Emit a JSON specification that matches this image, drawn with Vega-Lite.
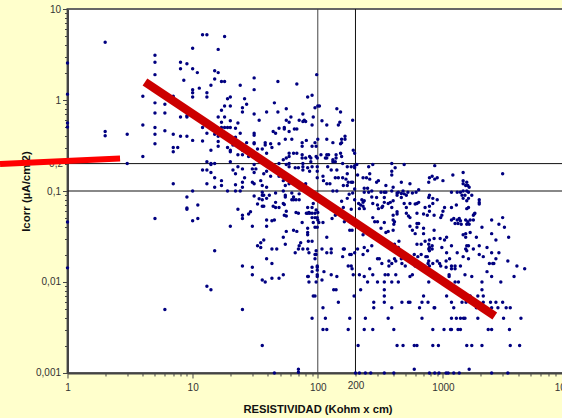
{"$schema":"https://vega.github.io/schema/vega-lite/v6.json","width":500.6,"height":364,"autosize":"none","padding":{"left":67.5,"top":9,"right":0,"bottom":45},"background":"#FFFFCC","view":{"fill":"white","stroke":"#666666","strokeWidth":2},
"config":{"font":"Liberation Sans"},
"layer":[
{"data":{"values":[{"r":100},{"r":200}]},"mark":{"type":"rule","strokeWidth":1},"encoding":{"color":{"condition":{"test":"datum.r==100","value":"#444444"},"value":"#111111"},"x":{"field":"r","type":"quantitative","scale":{"type":"log","domain":[1,10000],"nice":false},"axis":{"values":[1,2,3,4,5,6,7,8,9,10,20,30,40,50,60,70,80,90,100,200,300,400,500,600,700,800,900,1000,2000,3000,4000,5000,6000,7000,8000,9000,10000],"labelExpr":"indexof([1,10,100,200,1000,10000],datum.value)>=0?toString(datum.value):''","labelOverlap":false,"labelBound":false,"labelFlush":false,"grid":false,"domainColor":"#444444","domainWidth":2,"tickColor":"#444444","tickSize":{"condition":{"test":"abs(log(datum.value)/LN10-round(log(datum.value)/LN10))<0.001","value":5},"value":3},"labelColor":"#333333","labelFontSize":10,"labelPadding":5,"title":"RESISTIVIDAD (Kohm x cm)","titleFontSize":11.2,"titleFontWeight":"bold","titleColor":"#111111","titleX":250,"titleY":40,"titleBaseline":"alphabetic"}}}},
{"data":{"values":[{"v":0.1},{"v":0.2}]},"mark":{"type":"rule","color":"#111111","strokeWidth":1},"encoding":{"y":{"field":"v","type":"quantitative","scale":{"type":"log","domain":[0.001,10],"nice":false},"axis":{"values":[0.001,0.002,0.003,0.004,0.005,0.006,0.007,0.008,0.009,0.01,0.02,0.03,0.04,0.05,0.06,0.07,0.08,0.09,0.1,0.2,0.3,0.4,0.5,0.6,0.7,0.8,0.9,1,2,3,4,5,6,7,8,9,10],"labelExpr":"indexof([0.001,0.01,0.1,0.2,1,10],datum.value)>=0?replace(toString(datum.value),'.',','):''","labelOverlap":false,"labelBound":false,"grid":false,"domainColor":"#444444","domainWidth":2,"tickColor":"#444444","tickSize":{"condition":{"test":"abs(log(datum.value)/LN10-round(log(datum.value)/LN10))<0.001","value":5},"value":3},"labelColor":"#333333","labelFontSize":10,"labelPadding":2,"title":"Icorr (µA/cm 2)","titleFontSize":11.5,"titleFontWeight":"bold","titleColor":"#111111","titleX":-36,"titleY":182,"titleAngle":270}}}},
{"data":{"values":[
{"r":1,"i":2.55},{"r":1,"i":1.16},{"r":1,"i":0.56},{"r":1,"i":0.505},{"r":1,"i":0.0457},{"r":1,"i":0.0143},
{"r":2,"i":4.3},{"r":2,"i":0.45},{"r":2,"i":0.405},{"r":3,"i":0.42},{"r":3,"i":0.2},{"r":4,"i":1.1},{"r":4,"i":0.53},{"r":4,"i":0.24},
{"r":5,"i":3.1},{"r":5,"i":2.6},{"r":5,"i":1.9},{"r":5,"i":0.93},{"r":5,"i":0.72},{"r":5,"i":0.5},{"r":5,"i":0.42},{"r":5,"i":0.33},{"r":5,"i":0.05},
{"r":6,"i":0.9},{"r":6,"i":0.72},{"r":6,"i":0.46},{"r":6,"i":0.005},
{"r":8,"i":2.6},{"r":8,"i":2.2},{"r":7,"i":1.1},{"r":8,"i":0.65},{"r":7,"i":0.42},{"r":7,"i":0.3},{"r":7,"i":0.27},{"r":7.6,"i":0.3},{"r":8,"i":0.4},{"r":7,"i":0.12},
{"r":9,"i":2.5},{"r":8.5,"i":1.65},{"r":9,"i":0.67},{"r":9,"i":0.65},{"r":9,"i":0.4},{"r":9,"i":0.086},{"r":9,"i":0.065},
{"r":10,"i":3.7},{"r":10,"i":2.2},{"r":10,"i":1.3},{"r":10,"i":1.2},{"r":10,"i":1.08},{"r":10,"i":0.36},{"r":10,"i":0.1},
{"r":10.9,"i":2},{"r":11.3,"i":1.35},{"r":11,"i":0.07},{"r":12,"i":5.2},{"r":13,"i":5.2},{"r":13,"i":1.2},{"r":13,"i":1.08},{"r":12,"i":0.5},{"r":13,"i":0.43},{"r":12,"i":0.355},{"r":14,"i":0.28},{"r":13,"i":0.21},{"r":12,"i":0.17},{"r":13,"i":0.17},{"r":14,"i":0.2},{"r":15,"i":0.2},{"r":14,"i":0.16},{"r":15,"i":0.14},{"r":13,"i":0.12},{"r":15,"i":0.11},
{"r":16,"i":3.6},{"r":18,"i":5},{"r":15,"i":2.1},{"r":16,"i":2},{"r":15,"i":1.7},{"r":14,"i":1.45},{"r":17,"i":1.6},{"r":18,"i":1.6},
{"r":24,"i":1.45},{"r":31,"i":1.75},{"r":31,"i":1.3},{"r":48,"i":1.6},{"r":68,"i":1.5},{"r":98,"i":1.9},
{"r":20,"i":1.08},{"r":19,"i":1.03},{"r":20,"i":0.86},{"r":18,"i":0.86},{"r":26,"i":1.03},{"r":27,"i":0.9},{"r":25,"i":0.82},{"r":25,"i":0.74},{"r":17,"i":0.77},{"r":18,"i":0.65},{"r":16,"i":0.65},{"r":17,"i":0.57},{"r":20,"i":0.59},{"r":23,"i":0.56},{"r":31,"i":0.7},{"r":34,"i":0.6},{"r":39,"i":0.74},{"r":48,"i":0.74},{"r":45,"i":0.93},{"r":56,"i":0.8},{"r":61,"i":0.65},{"r":56,"i":0.6},{"r":59,"i":0.57},{"r":76,"i":0.7},{"r":71,"i":0.6},{"r":78,"i":0.6},{"r":80,"i":0.58},{"r":76,"i":0.58},{"r":92,"i":0.65},{"r":90,"i":0.53},{"r":83,"i":1.08},{"r":90,"i":1.13},{"r":95,"i":0.82},{"r":100,"i":0.86},{"r":103,"i":0.86},{"r":108,"i":0.59},{"r":118,"i":0.53},
{"r":18,"i":0.5},{"r":19,"i":0.5},{"r":20,"i":0.5},{"r":22,"i":0.49},{"r":17,"i":0.5},{"r":15,"i":0.42},{"r":24,"i":0.43},{"r":22,"i":0.39},{"r":16,"i":0.4},{"r":31,"i":0.43},{"r":31,"i":0.41},{"r":44,"i":0.45},{"r":46,"i":0.43},{"r":49,"i":0.49},{"r":54,"i":0.5},{"r":54,"i":0.48},{"r":59,"i":0.45},{"r":65,"i":0.48},{"r":68,"i":0.48},{"r":55,"i":0.37},{"r":62,"i":0.37},{"r":81,"i":0.36},{"r":75,"i":0.34},{"r":75,"i":0.31},{"r":95,"i":0.34},{"r":100,"i":0.37},{"r":118,"i":0.37},{"r":97,"i":0.31},{"r":90,"i":0.31},
{"r":16,"i":0.35},{"r":16,"i":0.31},{"r":19,"i":0.3},{"r":21,"i":0.32},{"r":20,"i":0.28},{"r":20,"i":0.27},{"r":27,"i":0.34},{"r":31,"i":0.34},{"r":31,"i":0.33},{"r":38,"i":0.34},{"r":38,"i":0.32},{"r":42,"i":0.33},{"r":43,"i":0.3},{"r":49,"i":0.33},{"r":33,"i":0.29},{"r":36,"i":0.29},{"r":25,"i":0.28},{"r":23,"i":0.25},{"r":25,"i":0.25},{"r":28,"i":0.24},{"r":39,"i":0.26},{"r":53,"i":0.22},{"r":59,"i":0.26},{"r":59,"i":0.24},{"r":64,"i":0.26},{"r":68,"i":0.26},{"r":75,"i":0.25},{"r":75,"i":0.23},{"r":80,"i":0.23},{"r":56,"i":0.23},{"r":86,"i":0.24},{"r":99,"i":0.23},{"r":106,"i":0.25},{"r":118,"i":0.25},{"r":115,"i":0.23},{"r":20,"i":0.21},
{"r":14,"i":0.195},{"r":23,"i":0.185},{"r":25,"i":0.175},{"r":30,"i":0.175},{"r":31,"i":0.195},{"r":32,"i":0.175},{"r":44,"i":0.18},{"r":49,"i":0.2},{"r":56,"i":0.195},{"r":59,"i":0.2},{"r":59,"i":0.185},{"r":66,"i":0.18},{"r":70,"i":0.18},{"r":76,"i":0.2},{"r":76,"i":0.185},{"r":83,"i":0.18},{"r":90,"i":0.185},{"r":99,"i":0.185},{"r":120,"i":0.185},
{"r":17,"i":0.13},{"r":17,"i":0.115},{"r":19,"i":0.1},{"r":22,"i":0.117},{"r":22,"i":0.1},{"r":21,"i":0.17},{"r":22,"i":0.155},{"r":24,"i":0.1},{"r":25,"i":0.125},{"r":25,"i":0.11},{"r":26,"i":0.14},{"r":30,"i":0.125},{"r":31,"i":0.12},{"r":35,"i":0.13},{"r":36,"i":0.115},{"r":31,"i":0.16},{"r":37,"i":0.155},{"r":39,"i":0.165},{"r":42,"i":0.145},{"r":47,"i":0.165},{"r":49,"i":0.145},{"r":53,"i":0.13},{"r":55,"i":0.115},{"r":39,"i":0.11},{"r":46,"i":0.095},{"r":53,"i":0.1},{"r":36,"i":0.097},{"r":59,"i":0.12},{"r":64,"i":0.13},{"r":80,"i":0.12},{"r":67,"i":0.117},{"r":76,"i":0.17},{"r":86,"i":0.165},{"r":99,"i":0.165},{"r":99,"i":0.14},{"r":111,"i":0.13},{"r":118,"i":0.12},{"r":110,"i":0.145},
{"r":10,"i":0.047},{"r":11,"i":0.05},{"r":9,"i":0.063},{"r":20,"i":0.041},{"r":23,"i":0.063},{"r":25,"i":0.054},{"r":25,"i":0.05},{"r":28,"i":0.056},{"r":29,"i":0.059},{"r":30,"i":0.041},{"r":39,"i":0.048},{"r":39,"i":0.041},{"r":43,"i":0.047},{"r":45,"i":0.048},{"r":15,"i":0.022},{"r":33,"i":0.025},{"r":35,"i":0.027},{"r":35,"i":0.024},{"r":37,"i":0.029},{"r":43,"i":0.023},{"r":47,"i":0.023},{"r":39,"i":0.018},{"r":43,"i":0.016},{"r":25,"i":0.015},{"r":30,"i":0.0145},{"r":30,"i":0.012},{"r":36,"i":0.0105},{"r":38,"i":0.01},{"r":43,"i":0.011},{"r":49,"i":0.011},{"r":13,"i":0.009},{"r":14,"i":0.0082},{"r":25,"i":0.005},{"r":36,"i":0.002},{"r":45,"i":0.001},
{"r":31,"i":0.088},{"r":33,"i":0.072},{"r":34,"i":0.082},{"r":36,"i":0.08},{"r":36,"i":0.068},{"r":37,"i":0.068},{"r":41,"i":0.09},{"r":37,"i":0.09},{"r":36,"i":0.09},{"r":39,"i":0.083},{"r":46,"i":0.075},{"r":44,"i":0.068},{"r":46,"i":0.066},{"r":49,"i":0.066},{"r":53,"i":0.073},{"r":54,"i":0.071},{"r":55,"i":0.09},{"r":55,"i":0.086},{"r":56,"i":0.06},{"r":54,"i":0.054},{"r":56,"i":0.053},
{"r":62,"i":0.095},{"r":64,"i":0.086},{"r":64,"i":0.08},{"r":67,"i":0.08},{"r":71,"i":0.093},{"r":62,"i":0.08},{"r":71,"i":0.08},{"r":67,"i":0.058},{"r":70,"i":0.057},{"r":75,"i":0.045},{"r":92,"i":0.073},{"r":90,"i":0.066},{"r":83,"i":0.066},{"r":85,"i":0.058},{"r":81,"i":0.057},{"r":83,"i":0.057},{"r":97,"i":0.062},{"r":100,"i":0.058},{"r":86,"i":0.057},{"r":90,"i":0.057},{"r":95,"i":0.057},{"r":99,"i":0.051},{"r":95,"i":0.051},{"r":90,"i":0.051},{"r":100,"i":0.048},{"r":110,"i":0.045},{"r":102,"i":0.045},{"r":92,"i":0.045},{"r":99,"i":0.04},{"r":95,"i":0.04},{"r":64,"i":0.037},{"r":68,"i":0.036},{"r":56,"i":0.036},{"r":83,"i":0.039},{"r":83,"i":0.035},{"r":83,"i":0.033},{"r":53,"i":0.031},{"r":118,"i":0.031},{"r":84,"i":0.028},{"r":90,"i":0.028},{"r":55,"i":0.026},{"r":73,"i":0.027},{"r":71,"i":0.025},{"r":70,"i":0.023},{"r":76,"i":0.023},{"r":83,"i":0.023},{"r":85,"i":0.021},{"r":66,"i":0.021},{"r":97,"i":0.022},{"r":95,"i":0.02},{"r":97,"i":0.02},{"r":95,"i":0.018},{"r":108,"i":0.023},{"r":118,"i":0.021},
{"r":53,"i":0.012},{"r":83,"i":0.0115},{"r":90,"i":0.013},{"r":99,"i":0.015},{"r":99,"i":0.0145},{"r":99,"i":0.0135},{"r":99,"i":0.012},{"r":99,"i":0.0115},{"r":112,"i":0.013},{"r":90,"i":0.0145},
{"r":84,"i":0.0115},{"r":85,"i":0.01},{"r":97,"i":0.01},{"r":108,"i":0.0105},{"r":128,"i":0.012},{"r":142,"i":0.0115},{"r":92,"i":0.007},{"r":95,"i":0.007},{"r":134,"i":0.0082},{"r":140,"i":0.0082},{"r":146,"i":0.006},{"r":110,"i":0.0052},{"r":90,"i":0.004},{"r":115,"i":0.004},{"r":110,"i":0.003},{"r":118,"i":0.003},{"r":180,"i":0.004},{"r":175,"i":0.003},{"r":240,"i":0.004},{"r":235,"i":0.003},{"r":275,"i":0.003},{"r":405,"i":0.003},{"r":365,"i":0.004},{"r":280,"i":0.0052},{"r":280,"i":0.006},{"r":390,"i":0.0052},{"r":340,"i":0.0082},{"r":340,"i":0.007},{"r":340,"i":0.006},{"r":220,"i":0.0082},{"r":195,"i":0.007},{"r":470,"i":0.006},{"r":530,"i":0.006},{"r":545,"i":0.006},{"r":700,"i":0.007},{"r":680,"i":0.006},{"r":760,"i":0.006},{"r":650,"i":0.0052},{"r":850,"i":0.0052},{"r":860,"i":0.0052},{"r":680,"i":0.004},{"r":830,"i":0.003},{"r":1020,"i":0.003},{"r":1150,"i":0.003},{"r":1170,"i":0.003},{"r":1320,"i":0.003},{"r":1380,"i":0.003},{"r":1170,"i":0.004},{"r":1280,"i":0.004},{"r":1380,"i":0.004},{"r":1460,"i":0.004},{"r":1500,"i":0.004},{"r":1900,"i":0.004},{"r":1070,"i":0.007},{"r":1170,"i":0.006},{"r":1220,"i":0.0052},{"r":1420,"i":0.006},{"r":1530,"i":0.006},{"r":1650,"i":0.007},{"r":1900,"i":0.007},{"r":2100,"i":0.007},{"r":2050,"i":0.0082},{"r":2100,"i":0.006},{"r":1850,"i":0.0052},{"r":2400,"i":0.006},{"r":2650,"i":0.006},{"r":3000,"i":0.006},{"r":2450,"i":0.0052},{"r":2750,"i":0.0052},{"r":3200,"i":0.0052},{"r":3450,"i":0.0052},{"r":3050,"i":0.004},{"r":4200,"i":0.004},{"r":2300,"i":0.003},{"r":2450,"i":0.003},{"r":3400,"i":0.003},{"r":4100,"i":0.002},{"r":3450,"i":0.002},{"r":2050,"i":0.002},{"r":1550,"i":0.002},{"r":1700,"i":0.002},{"r":830,"i":0.002},{"r":920,"i":0.002},{"r":590,"i":0.002},{"r":620,"i":0.002},{"r":430,"i":0.002},{"r":480,"i":0.002},{"r":210,"i":0.002},
{"r":70,"i":0.0011},{"r":70,"i":0.00102},{"r":200,"i":0.001},{"r":215,"i":0.001},{"r":240,"i":0.001},{"r":265,"i":0.001},{"r":340,"i":0.001},{"r":405,"i":0.001},{"r":590,"i":0.0011},{"r":780,"i":0.001},{"r":860,"i":0.001},{"r":930,"i":0.001},{"r":1060,"i":0.001},{"r":1100,"i":0.001},{"r":1220,"i":0.001},{"r":1350,"i":0.001},{"r":1620,"i":0.0011},{"r":2450,"i":0.001},{"r":3300,"i":0.001},
{"r":142,"i":0.8},{"r":152,"i":0.74},{"r":190,"i":0.6},{"r":150,"i":0.57},{"r":146,"i":0.53},{"r":155,"i":0.37},{"r":165,"i":0.4},{"r":165,"i":0.37},{"r":152,"i":0.33},{"r":155,"i":0.34},{"r":132,"i":0.34},{"r":192,"i":0.28},{"r":197,"i":0.26},{"r":152,"i":0.26},{"r":155,"i":0.24},{"r":140,"i":0.25},{"r":140,"i":0.23},{"r":132,"i":0.22},{"r":132,"i":0.21},{"r":138,"i":0.21},{"r":122,"i":0.25},{"r":118,"i":0.23},{"r":97,"i":0.24},{"r":88,"i":0.23},{"r":88,"i":0.21},
{"r":390,"i":0.2},{"r":490,"i":0.195},{"r":860,"i":0.19},{"r":158,"i":0.2},{"r":172,"i":0.185},{"r":185,"i":0.185},{"r":197,"i":0.19},{"r":205,"i":0.195},{"r":255,"i":0.185},{"r":275,"i":0.195},{"r":415,"i":0.18},{"r":390,"i":0.165},{"r":390,"i":0.15},{"r":260,"i":0.155},{"r":260,"i":0.135},{"r":208,"i":0.15},{"r":230,"i":0.14},{"r":245,"i":0.14},{"r":172,"i":0.155},{"r":197,"i":0.18},{"r":142,"i":0.17},{"r":128,"i":0.17},{"r":138,"i":0.14},{"r":146,"i":0.14},{"r":158,"i":0.14},{"r":168,"i":0.135},{"r":190,"i":0.125},{"r":185,"i":0.125},{"r":172,"i":0.115},{"r":160,"i":0.115},{"r":175,"i":0.125},{"r":125,"i":0.12},{"r":305,"i":0.13},{"r":295,"i":0.125},{"r":350,"i":0.115},{"r":400,"i":0.11},{"r":465,"i":0.125},{"r":545,"i":0.12},{"r":780,"i":0.14},{"r":770,"i":0.125},{"r":820,"i":0.145},{"r":900,"i":0.14},{"r":860,"i":0.135},{"r":1000,"i":0.13},{"r":1200,"i":0.15},{"r":1450,"i":0.16},{"r":1450,"i":0.13},{"r":1450,"i":0.12},{"r":1550,"i":0.125},{"r":1580,"i":0.115},{"r":1520,"i":0.115},{"r":1620,"i":0.11},
{"r":132,"i":0.1},{"r":142,"i":0.1},{"r":197,"i":0.105},{"r":235,"i":0.107},{"r":250,"i":0.107},{"r":235,"i":0.097},{"r":255,"i":0.097},{"r":270,"i":0.1},{"r":320,"i":0.097},{"r":340,"i":0.097},{"r":350,"i":0.097},{"r":390,"i":0.1},{"r":440,"i":0.097},{"r":480,"i":0.1},{"r":490,"i":0.093},{"r":525,"i":0.097},{"r":430,"i":0.095},{"r":610,"i":0.097},{"r":640,"i":0.103},{"r":1170,"i":0.097},{"r":1300,"i":0.097},{"r":1380,"i":0.097},{"r":1450,"i":0.1},{"r":1550,"i":0.1},{"r":1600,"i":0.097},{"r":1420,"i":0.09},{"r":1500,"i":0.09},
{"r":155,"i":0.077},{"r":160,"i":0.066},{"r":185,"i":0.063},{"r":172,"i":0.083},{"r":178,"i":0.092},{"r":190,"i":0.095},{"r":197,"i":0.08},{"r":225,"i":0.08},{"r":212,"i":0.073},{"r":230,"i":0.075},{"r":235,"i":0.078},{"r":220,"i":0.07},{"r":230,"i":0.068},{"r":215,"i":0.064},{"r":235,"i":0.064},{"r":270,"i":0.086},{"r":275,"i":0.073},{"r":305,"i":0.064},{"r":300,"i":0.07},{"r":325,"i":0.066},{"r":330,"i":0.068},{"r":340,"i":0.075},{"r":365,"i":0.073},{"r":380,"i":0.075},{"r":400,"i":0.078},{"r":295,"i":0.085},{"r":340,"i":0.085},{"r":430,"i":0.09},{"r":465,"i":0.094},{"r":465,"i":0.085},{"r":390,"i":0.066},{"r":430,"i":0.059},{"r":430,"i":0.056},{"r":400,"i":0.054},{"r":510,"i":0.09},{"r":570,"i":0.095},{"r":510,"i":0.057},{"r":530,"i":0.053},{"r":545,"i":0.051},{"r":490,"i":0.073},{"r":510,"i":0.066},{"r":545,"i":0.073},{"r":600,"i":0.072},{"r":620,"i":0.073},{"r":640,"i":0.075},{"r":620,"i":0.057},{"r":700,"i":0.056},{"r":750,"i":0.054},{"r":720,"i":0.066},{"r":780,"i":0.068},{"r":830,"i":0.073},{"r":780,"i":0.09},{"r":770,"i":0.085},{"r":830,"i":0.083},{"r":900,"i":0.08},{"r":850,"i":0.054},{"r":780,"i":0.06},{"r":1030,"i":0.066},{"r":1000,"i":0.06},{"r":980,"i":0.054},{"r":960,"i":0.051},{"r":1170,"i":0.066},{"r":1280,"i":0.07},{"r":1170,"i":0.048},{"r":1220,"i":0.05},{"r":1300,"i":0.048},{"r":1350,"i":0.05},{"r":1380,"i":0.047},{"r":1320,"i":0.044},{"r":1250,"i":0.044},{"r":1520,"i":0.048},{"r":1580,"i":0.046},{"r":1550,"i":0.043},{"r":1620,"i":0.043},
{"r":163,"i":0.046},{"r":180,"i":0.037},{"r":188,"i":0.037},{"r":130,"i":0.05},{"r":138,"i":0.054},{"r":285,"i":0.046},{"r":300,"i":0.046},{"r":340,"i":0.045},{"r":400,"i":0.048},{"r":410,"i":0.046},{"r":405,"i":0.043},{"r":365,"i":0.036},{"r":400,"i":0.037},{"r":350,"i":0.035},{"r":320,"i":0.039},{"r":230,"i":0.033},{"r":275,"i":0.051},{"r":545,"i":0.041},{"r":620,"i":0.044},{"r":640,"i":0.044},{"r":620,"i":0.04},{"r":570,"i":0.037},{"r":600,"i":0.034},{"r":700,"i":0.039},{"r":850,"i":0.037},{"r":700,"i":0.034},{"r":1070,"i":0.031},{"r":1030,"i":0.029},{"r":950,"i":0.03},{"r":850,"i":0.03},{"r":780,"i":0.029},{"r":720,"i":0.028},{"r":770,"i":0.026},{"r":780,"i":0.024},{"r":820,"i":0.025},{"r":780,"i":0.022},{"r":620,"i":0.026},{"r":670,"i":0.026},{"r":445,"i":0.028},{"r":410,"i":0.026},{"r":440,"i":0.024},{"r":235,"i":0.024},{"r":208,"i":0.023},{"r":270,"i":0.025},{"r":250,"i":0.022},{"r":230,"i":0.02},{"r":160,"i":0.023},{"r":185,"i":0.02},{"r":300,"i":0.018},{"r":530,"i":0.018},{"r":465,"i":0.018},{"r":410,"i":0.018},{"r":1070,"i":0.021},{"r":1300,"i":0.021},{"r":1550,"i":0.025},{"r":1550,"i":0.022},{"r":128,"i":0.023},{"r":128,"i":0.021},{"r":197,"i":0.021},
{"r":1700,"i":0.09},{"r":1450,"i":0.083},{"r":1600,"i":0.083},{"r":1550,"i":0.078},{"r":1950,"i":0.08},{"r":1950,"i":0.075},{"r":1950,"i":0.072},{"r":1600,"i":0.066},{"r":1550,"i":0.064},{"r":1800,"i":0.057},{"r":1780,"i":0.056},{"r":1750,"i":0.054},{"r":3000,"i":0.155},{"r":2450,"i":0.048},{"r":3000,"i":0.051},{"r":2800,"i":0.043},{"r":3100,"i":0.04},{"r":2050,"i":0.04},{"r":1650,"i":0.048},{"r":1750,"i":0.048},{"r":1400,"i":0.043},{"r":2450,"i":0.034},{"r":3350,"i":0.031},{"r":2650,"i":0.029},{"r":1850,"i":0.031},{"r":1520,"i":0.031},{"r":1650,"i":0.035},{"r":1520,"i":0.034},{"r":1450,"i":0.033},{"r":1170,"i":0.025},{"r":1600,"i":0.025},{"r":1950,"i":0.025},{"r":2250,"i":0.024},{"r":1520,"i":0.023},{"r":1450,"i":0.019},{"r":1750,"i":0.023},{"r":1950,"i":0.02},{"r":2100,"i":0.019},{"r":2450,"i":0.021},{"r":2800,"i":0.021},{"r":2650,"i":0.018},{"r":1600,"i":0.018},
{"r":3300,"i":0.017},{"r":2500,"i":0.016},{"r":2350,"i":0.016},{"r":2550,"i":0.016},{"r":3900,"i":0.015},{"r":4500,"i":0.014},{"r":2250,"i":0.013},{"r":2450,"i":0.0115},{"r":3700,"i":0.0115},{"r":1700,"i":0.0115},{"r":1500,"i":0.012},{"r":1120,"i":0.0115},{"r":1120,"i":0.012},{"r":570,"i":0.012},{"r":545,"i":0.0115},{"r":1130,"i":0.018},{"r":1060,"i":0.017},{"r":900,"i":0.017},{"r":940,"i":0.016},{"r":960,"i":0.015},{"r":1060,"i":0.0145},{"r":1380,"i":0.015},{"r":1250,"i":0.015},{"r":1170,"i":0.015},{"r":1170,"i":0.014},{"r":1250,"i":0.014},{"r":590,"i":0.02},{"r":670,"i":0.02},{"r":730,"i":0.019},{"r":750,"i":0.019},{"r":770,"i":0.017},{"r":770,"i":0.023},{"r":820,"i":0.023},{"r":980,"i":0.024},{"r":470,"i":0.016},{"r":500,"i":0.015},{"r":630,"i":0.019},{"r":830,"i":0.016},{"r":780,"i":0.015},
{"r":158,"i":0.019},{"r":163,"i":0.023},{"r":180,"i":0.02},{"r":175,"i":0.015},{"r":185,"i":0.015},{"r":188,"i":0.014},{"r":192,"i":0.012},{"r":215,"i":0.012},{"r":235,"i":0.0115},{"r":250,"i":0.01},{"r":260,"i":0.014},{"r":275,"i":0.012},{"r":300,"i":0.01},{"r":340,"i":0.01},{"r":310,"i":0.018},{"r":325,"i":0.016},{"r":345,"i":0.012},{"r":365,"i":0.012},{"r":390,"i":0.01},{"r":440,"i":0.01},{"r":370,"i":0.017},{"r":390,"i":0.016},{"r":370,"i":0.015},{"r":420,"i":0.012},{"r":420,"i":0.017},{"r":600,"i":0.015},{"r":760,"i":0.016},{"r":710,"i":0.015},{"r":770,"i":0.01},{"r":1250,"i":0.01},{"r":1330,"i":0.01},{"r":2050,"i":0.01},{"r":2900,"i":0.01}
]},"mark":{"type":"circle","color":"#000080","size":12,"opacity":1},"encoding":{"x":{"field":"r","type":"quantitative","scale":{"type":"log","domain":[1,10000],"nice":false}},"y":{"field":"i","type":"quantitative","scale":{"type":"log","domain":[0.001,10],"nice":false}}}},
{"data":{"values":[{"r":4.16,"i":1.58},{"r":2596,"i":0.00423}]},"mark":{"type":"line","color":"#CC0000","strokeWidth":8.5,"strokeCap":"butt"},"encoding":{"x":{"field":"r","type":"quantitative","scale":{"type":"log","domain":[1,10000],"nice":false}},"y":{"field":"i","type":"quantitative","scale":{"type":"log","domain":[0.001,10],"nice":false}}}},
{"data":{"values":[{"r":0.289,"i":0.198},{"r":2.63,"i":0.227}]},"mark":{"type":"line","color":"#FF0000","strokeWidth":6,"strokeCap":"butt","clip":false},"encoding":{"x":{"field":"r","type":"quantitative","scale":{"type":"log","domain":[1,10000],"nice":false}},"y":{"field":"i","type":"quantitative","scale":{"type":"log","domain":[0.001,10],"nice":false}}}}
]}
